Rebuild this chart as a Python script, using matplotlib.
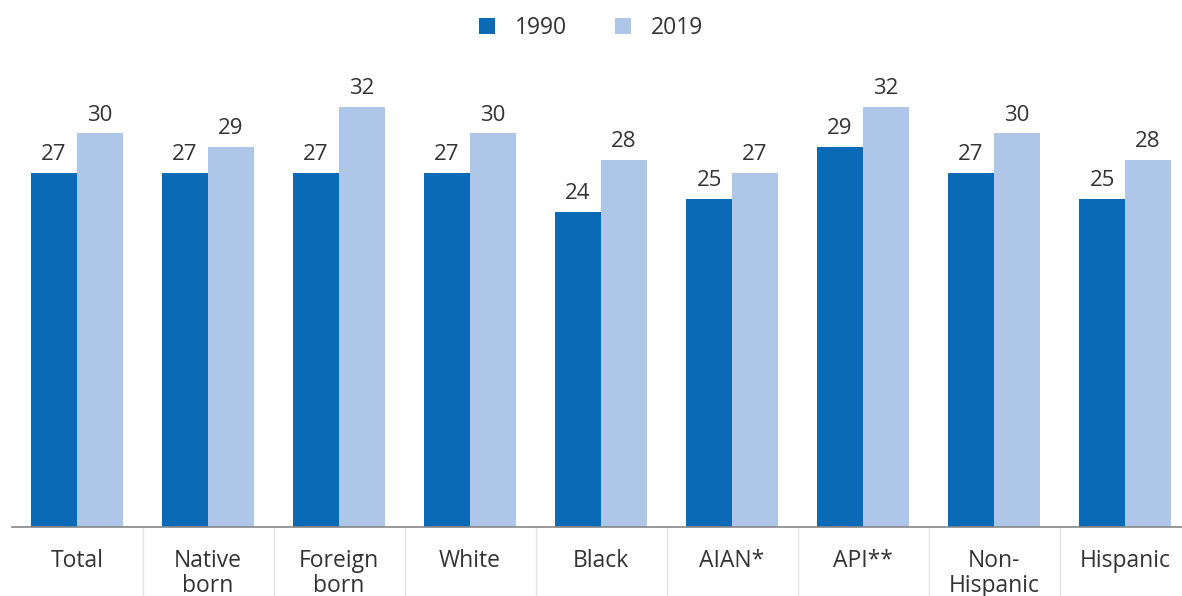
import matplotlib
matplotlib.use("Agg")
import matplotlib.pyplot as plt
import numpy as np

categories = ["Total", "Native\nborn", "Foreign\nborn", "White", "Black",
              "AIAN*", "API**", "Non-\nHispanic", "Hispanic"]
values_1990 = [27, 27, 27, 27, 24, 25, 29, 27, 25]
values_2019 = [30, 29, 32, 30, 28, 27, 32, 30, 28]
series_names = ["1990", "2019"]
colors = ["#0a6ab6", "#aec6e8"]

plt.rcParams['font.family'] = ['Open Sans', 'DejaVu Sans']

fig = plt.figure(figsize=(11.82, 5.96), dpi=100)
W, H = 1182, 596
ax = fig.add_axes([11.5 / W, (H - 527) / H, 1 - 11.5 / W, 35 * 13.12 / H])

x = np.arange(len(categories))
bw = 0.35
b1 = ax.bar(x - bw / 2, values_1990, bw, color=colors[0], label=series_names[0])
b2 = ax.bar(x + bw / 2, values_2019, bw, color=colors[1], label=series_names[1])

for bars, vals in ((b1, values_1990), (b2, values_2019)):
    for rect, v in zip(bars, vals):
        ax.text(rect.get_x() + rect.get_width() / 2, v + 0.6, f"{v}",
                ha="center", va="bottom", fontsize=16, color="#333333")

ax.set_xlim(-0.5, (1182 - 77) / 131)
ax.set_ylim(0, 35)
for s in ["top", "right", "left"]:
    ax.spines[s].set_visible(False)
ax.spines["bottom"].set_color("#888888")
ax.spines["bottom"].set_linewidth(1.2)
ax.set_yticks([])
ax.set_xticks(x)
ax.set_xticklabels(categories, fontsize=16.5, color="#333333", linespacing=1.05, va="top")
ax.tick_params(axis="x", length=0, pad=16)

# light separators between categories below the baseline
for k in range(len(categories) - 1):
    ax.plot([k + 0.5, k + 0.5], [0, -0.18], transform=ax.get_xaxis_transform(),
            color="#e2e2e2", lw=1, clip_on=False)

leg = fig.legend(handles=[b1, b2], labels=series_names, loc="upper center",
                 bbox_to_anchor=(0.5, 1.008), ncol=2, frameon=False, fontsize=16.5,
                 handlelength=0.7, handleheight=0.7, columnspacing=2.1, handletextpad=0.85)
for t in leg.get_texts():
    t.set_color("#333333")

fig.savefig("out.png", dpi=100)
